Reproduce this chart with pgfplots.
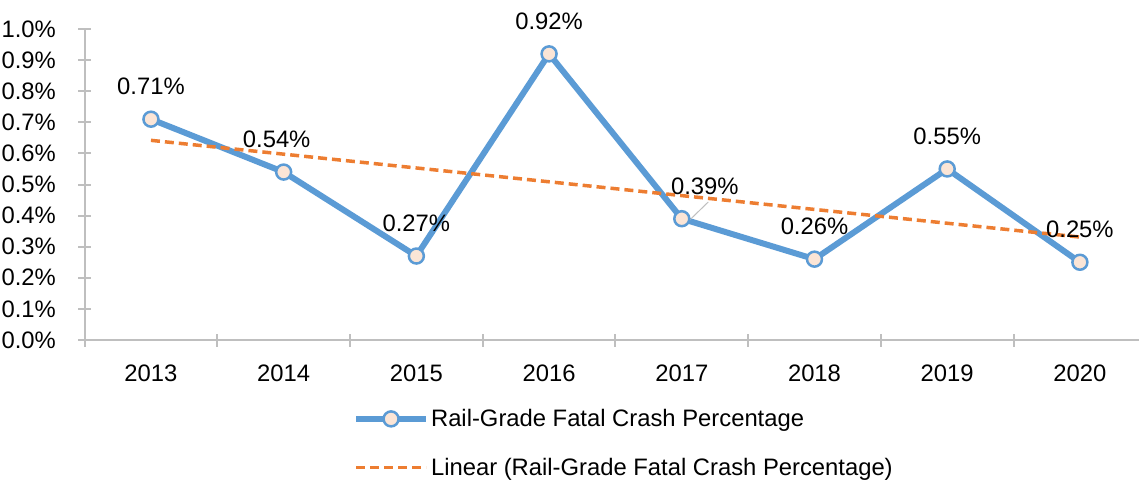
\documentclass[border=0pt]{standalone}
\usepackage{fontspec}
\setmainfont{Liberation Sans}
\usepackage{pgfplots}
\usepackage{pgfplotstable}
\pgfplotsset{compat=1.18}
\definecolor{cblue}{HTML}{5B9BD5}
\definecolor{corange}{HTML}{ED7D31}
\definecolor{cfill}{HTML}{FBE5D6}
\definecolor{caxis}{HTML}{BFBFBF}
\newcommand{\bigfont}{\fontsize{23.8}{28}\selectfont}

% share of fatal crashes at rail grade crossings, %
\pgfplotstableread{
x y dx
0 0.71 0
1 0.54 -7
2 0.27 0
3 0.92 0
4 0.39 23
5 0.26 0
6 0.55 0
7 0.25 0
}\crashdata

\begin{document}
\begin{tikzpicture}
\begin{axis}[
    at={(0pt,0pt)}, anchor=south west,
    scale only axis, width=1054.3pt, height=311pt,
    xmin=-0.5, xmax=7.445, ymin=0, ymax=1.0,
    axis x line=bottom, axis y line=left,
    axis line style={draw=caxis, line width=2pt, -},
    clip=false,
    xtick={0,...,7},
    xticklabels={2013,2014,2015,2016,2017,2018,2019,2020},
    major x tick style={draw=none},
    minor xtick={-0.5,0.5,1.5,2.5,3.5,4.5,5.5,6.5},
    ytick={0,0.1,0.2,0.3,0.4,0.5,0.6,0.7,0.8,0.9,1.0},
    yticklabels={0.0\%,0.1\%,0.2\%,0.3\%,0.4\%,0.5\%,0.6\%,0.7\%,0.8\%,0.9\%,1.0\%},
    tick align=center, major tick length=13pt, minor tick length=13pt,
    tick style={draw=caxis, line width=2pt},
    every tick label/.append style={font=\bigfont, text=black},
    yticklabel style={anchor=east, inner sep=0pt, xshift=-22pt},
    xticklabel style={anchor=north, inner sep=0pt, yshift=-18pt},
    legend style={at={(0.2516,-0.21)}, anchor=north west, draw=none, fill=none,
      font=\bigfont, row sep=26pt, legend cell align=left},
    legend image code/.code={\draw[mark repeat=2,mark phase=2] plot coordinates {(0pt,0pt) (35pt,0pt) (70pt,0pt)};},
]
\addplot[color=cblue, line width=6pt, line join=round,
    mark=*, mark size=7.5pt, mark options={fill=cfill, draw=cblue, line width=2.5pt},
    visualization depends on={\thisrow{dx} \as \dx},
    point meta=y,
    nodes near coords={\pgfmathprintnumber[fixed,fixed zerofill,precision=2,assume math mode=true]{\pgfplotspointmeta}\%},
    every node near coord/.append style={font=\bigfont, text=black, anchor=base, inner sep=0pt, yshift=24.5pt, xshift=\dx},
  ] table[x=x, y=y] {\crashdata};
\addlegendentry{Rail-Grade Fatal Crash Percentage}
\addplot[color=corange, line width=3.5pt, dash pattern=on 9pt off 5pt] coordinates {(0,0.642) (7,0.331)};
\addlegendentry{Linear (Rail-Grade Fatal Crash Percentage)}
\draw[gray!50, line width=1pt] (axis cs:4.06,0.386) -- (axis cs:4.20,0.444);
\end{axis}
\pgfresetboundingbox
\useasboundingbox (-84.6pt,-145pt) rectangle (1054.4pt,340pt);
\end{tikzpicture}
\end{document}
